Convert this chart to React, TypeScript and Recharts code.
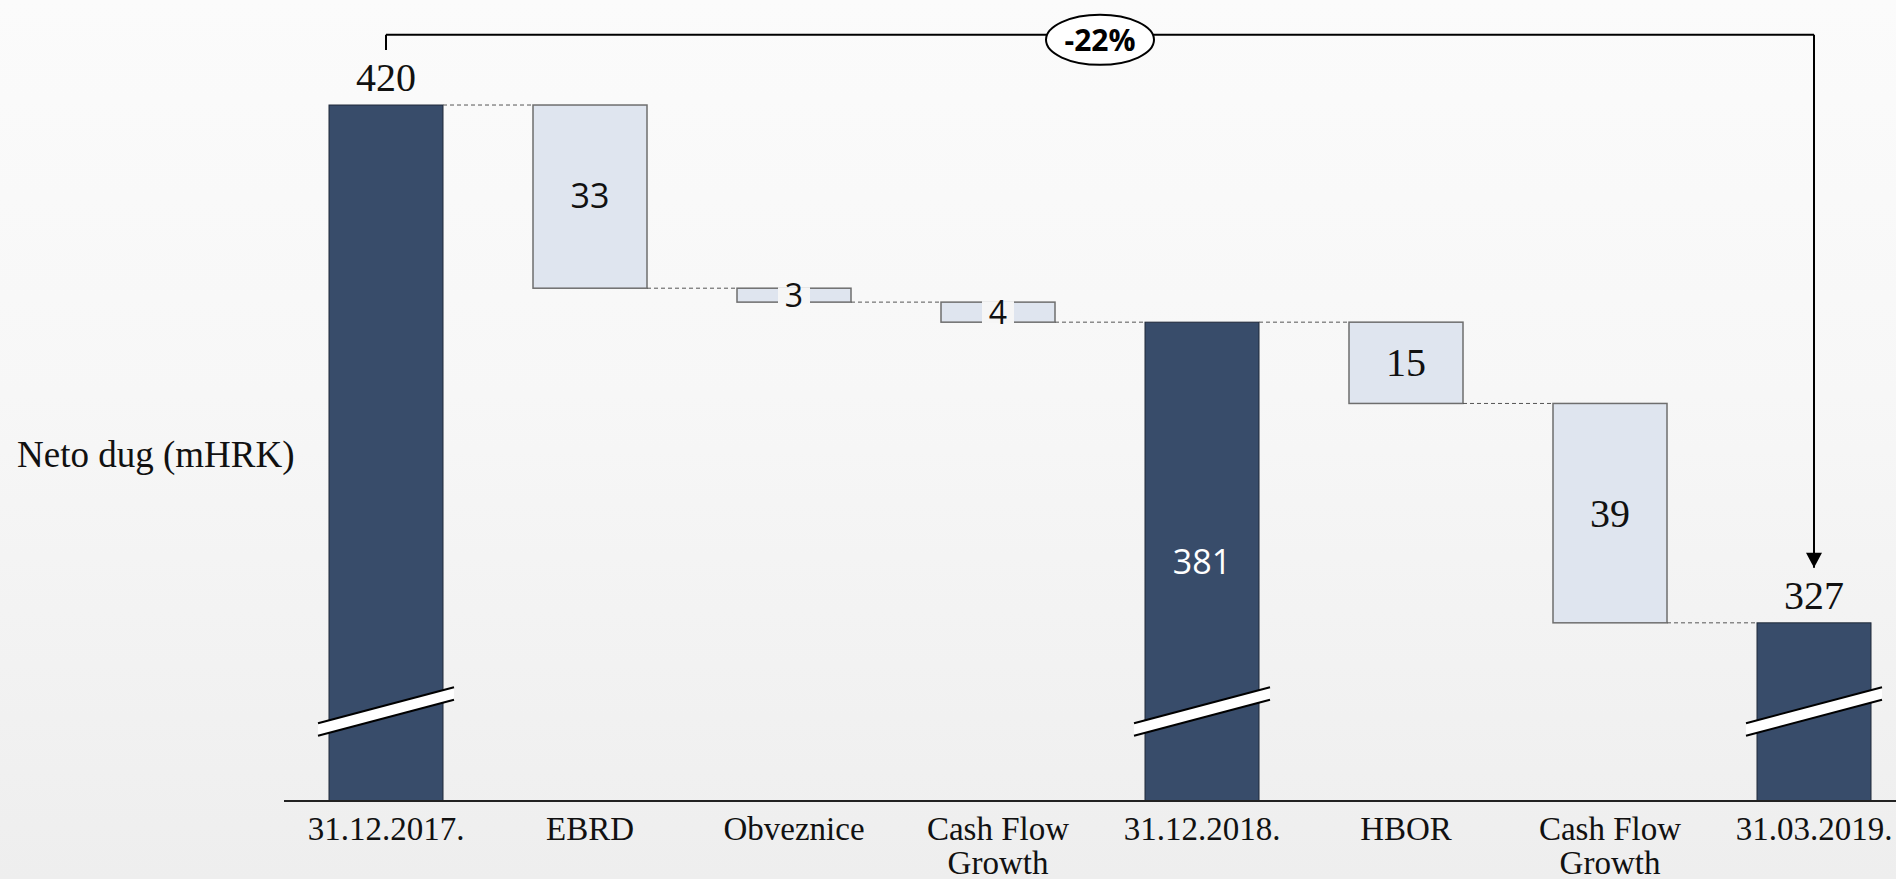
import React from 'react';
import { ComposedChart, Bar, XAxis, YAxis, LabelList, ReferenceLine } from 'recharts';

// categories along the x axis
const categories = [
  '31.12.2017.',
  'EBRD',
  'Obveznice',
  'Cash Flow Growth',
  '31.12.2018.',
  'HBOR',
  'Cash Flow Growth',
  '31.03.2019.',
];
// 'total' = balance at a date, 'delta' = change in between
const kinds = ['total', 'delta', 'delta', 'delta', 'total', 'delta', 'delta', 'total'];
// net debt in mHRK (totals absolute, deltas signed)
const values = [420, -32.9, -2.5, -3.6, 381, -14.6, -39.4, 327];
// font used for each bar's value label
const labelFonts = ['serif', 'sans', 'sans', 'sans', 'sans', 'serif', 'serif', 'serif'];

const AXIS_FLOOR = 295; // the value axis is broken, it starts here
const AXIS_CEIL = 435;

const CHART_W = 1916;
const CHART_H = 879;
const Y_AXIS_W = 284;
const BAND = (CHART_W - Y_AXIS_W) / categories.length;

const SERIF = '"Liberation Serif", "Times New Roman", serif';
const SANS = '"Open Sans", "Noto Sans", sans-serif';
const DARK = '#384c6a';
const LIGHT = '#dfe5ef';
const BG_MID = '#f6f6f6';

let level = 0;
const rows = categories.map((name, i) => {
  const v = values[i];
  let range: [number, number];
  if (kinds[i] === 'total') {
    level = v;
    range = [AXIS_FLOOR, v];
  } else {
    range = [level + v, level];
    level += v;
  }
  return { id: String(i), name, kind: kinds[i], range, label: String(Math.round(Math.abs(v))) };
});

const firstTotal = values[0];
const lastTotal = values[values.length - 1];
const changeText = `${Math.round(((lastTotal - firstTotal) / firstTotal) * 100)}%`;
const BRACKET_LEVEL = firstTotal + 12.6;

// simple word wrap for the category labels
function wrapLabel(s: string, maxChars = 11) {
  const lines: string[] = [];
  let cur = '';
  s.split(' ').forEach((w) => {
    if (cur && (cur + ' ' + w).length > maxChars) {
      lines.push(cur);
      cur = w;
    } else {
      cur = cur ? cur + ' ' + w : w;
    }
  });
  if (cur) lines.push(cur);
  return lines;
}

const WaterfallShape = (props: any) => {
  const { x, y, width, height, index, payload } = props;
  const top = Math.min(y, y + height);
  const h = Math.abs(height);
  const isTotal = payload.kind === 'total';
  const connY = isTotal ? top : top + h;
  const hasNext = index < categories.length - 1;

  const cx = x + width / 2;
  const cy = top + h - 89.5;
  const half = width / 2 + 11;
  const rise = 18;
  const sep = 6.25;

  return (
    <g>
      <rect
        x={x}
        y={top}
        width={width}
        height={h}
        fill={isTotal ? DARK : LIGHT}
        stroke={isTotal ? '#1e2838' : '#6e6e6e'}
        strokeWidth={isTotal ? 1 : 1.5}
      />
      {hasNext && (
        <line
          x1={x + width}
          x2={x + BAND}
          y1={connY}
          y2={connY}
          stroke="#555"
          strokeWidth={1}
          strokeDasharray="4 3"
        />
      )}
      {isTotal && (
        <g>
          <polygon
            points={`${cx - half},${cy - sep + rise} ${cx + half},${cy - sep - rise} ${cx + half},${cy + sep - rise} ${cx - half},${cy + sep + rise}`}
            fill="#ffffff"
          />
          <line x1={cx - half} y1={cy - sep + rise} x2={cx + half} y2={cy - sep - rise} stroke="#000" strokeWidth={2} />
          <line x1={cx - half} y1={cy + sep + rise} x2={cx + half} y2={cy + sep - rise} stroke="#000" strokeWidth={2} />
        </g>
      )}
    </g>
  );
};

const BarLabel = (props: any) => {
  const vb = props.viewBox ?? props;
  const index = props.index;
  const row = rows[index];
  if (!row || vb == null) return null;
  const top = Math.min(vb.y, vb.y + vb.height);
  const h = Math.abs(vb.height);
  const cx = vb.x + vb.width / 2;
  const isSerif = labelFonts[index] === 'serif';
  const font = isSerif ? SERIF : SANS;
  const size = isSerif ? 40 : 34;

  if (row.kind === 'total' && (index === 0 || index === categories.length - 1)) {
    return (
      <text x={cx} y={top - 14} textAnchor="middle" fontFamily={font} fontSize={size} fill="#111">
        {row.label}
      </text>
    );
  }
  if (row.kind === 'total') {
    return (
      <text x={cx} y={top + h / 2} dy="0.36em" textAnchor="middle" fontFamily={font} fontSize={size} fill="#ffffff">
        {row.label}
      </text>
    );
  }
  if (h < 30) {
    return (
      <g>
        <rect x={cx - 16} y={top - 1} width={32} height={h + 2} fill={BG_MID} />
        <text x={cx} y={top + h / 2} dy="0.36em" textAnchor="middle" fontFamily={font} fontSize={32} fill="#111">
          {row.label}
        </text>
      </g>
    );
  }
  return (
    <text x={cx} y={top + h / 2} dy="0.34em" textAnchor="middle" fontFamily={font} fontSize={size} fill="#111">
      {row.label}
    </text>
  );
};

const CategoryTick = (props: any) => {
  const { x, y, payload } = props;
  const lines = wrapLabel(categories[Number(payload.value)]);
  return (
    <text x={x} y={y + 39} textAnchor="middle" fontFamily={SERIF} fontSize={33} fill="#111">
      {lines.map((ln, i) => (
        <tspan key={i} x={x} dy={i === 0 ? 0 : 34}>
          {ln}
        </tspan>
      ))}
    </text>
  );
};

const ChangeBadge = (props: any) => {
  const vb = props.viewBox;
  if (!vb) return null;
  const cx = vb.x + vb.width / 2;
  const cy = vb.y + 5;
  return (
    <g>
      <ellipse cx={cx} cy={cy} rx={54} ry={25} fill="#ffffff" stroke="#000" strokeWidth={2} />
      <text x={cx} y={cy} dy="0.36em" textAnchor="middle" fontFamily={SANS} fontWeight="bold" fontSize={30} fill="#000">
        {changeText}
      </text>
    </g>
  );
};

const ArrowHead = (props: any) => {
  const vb = props.viewBox;
  if (!vb) return null;
  const x = vb.x;
  const tip = vb.y + vb.height;
  return <polygon points={`${x - 8},${tip - 15} ${x + 8},${tip - 15} ${x},${tip}`} fill="#000" />;
};

const YTitle = (props: any) => {
  const vb = props.viewBox ?? { x: 0, y: 0, height: 0 };
  return (
    <text x={vb.x + 17} y={467} fontFamily={SERIF} fontSize={37} fill="#111">
      Neto dug (mHRK)
    </text>
  );
};

export default function App() {
  return (
    <div
      style={{
        position: 'absolute',
        left: 0,
        top: 0,
        width: 1896,
        height: 879,
        overflow: 'hidden',
        background: 'linear-gradient(to bottom, #fbfbfb 0%, #f7f7f7 45%, #eeeeee 100%)',
      }}
    >
      <ComposedChart
        width={CHART_W}
        height={CHART_H}
        data={rows}
        margin={{ top: 21.5, right: 0, bottom: 0, left: 0 }}
      >
        <XAxis
          dataKey="id"
          type="category"
          height={78}
          interval={0}
          tickLine={false}
          tickSize={0}
          tickMargin={0}
          axisLine={{ stroke: '#222', strokeWidth: 2 }}
          tick={<CategoryTick />}
        />
        <YAxis
          type="number"
          domain={[AXIS_FLOOR, AXIS_CEIL]}
          allowDataOverflow
          width={Y_AXIS_W}
          tick={false}
          tickLine={false}
          axisLine={false}
          label={<YTitle />}
        />
        <Bar dataKey="range" barSize={114} isAnimationActive={false} shape={<WaterfallShape />}>
          <LabelList dataKey="label" content={<BarLabel />} />
        </Bar>
        <ReferenceLine
          segment={[
            { x: '0', y: BRACKET_LEVEL },
            { x: '0', y: BRACKET_LEVEL - 2.7 },
          ]}
          stroke="#000"
          strokeWidth={2}
        />
        <ReferenceLine
          segment={[
            { x: '7', y: BRACKET_LEVEL },
            { x: '7', y: lastTotal + 9.9 },
          ]}
          stroke="#000"
          strokeWidth={2}
          label={<ArrowHead />}
        />
        <ReferenceLine
          segment={[
            { x: '0', y: BRACKET_LEVEL },
            { x: '7', y: BRACKET_LEVEL },
          ]}
          stroke="#000"
          strokeWidth={2}
          label={<ChangeBadge />}
        />
      </ComposedChart>
    </div>
  );
}
